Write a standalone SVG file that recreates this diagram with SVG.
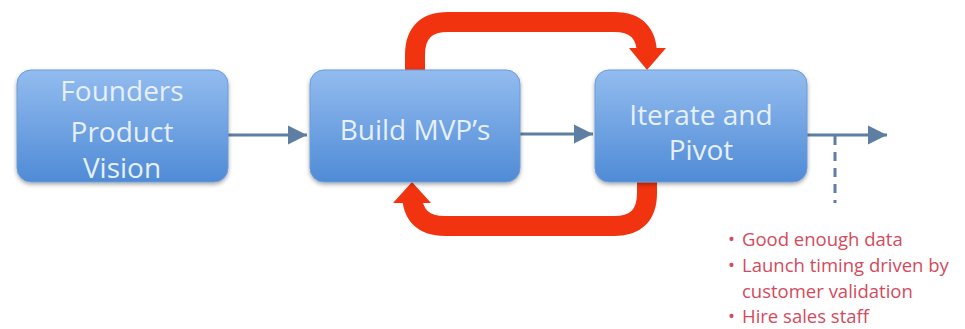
<svg xmlns="http://www.w3.org/2000/svg" width="965" height="329" viewBox="0 0 965 329">
<defs>
<linearGradient id="boxGrad" x1="0" y1="0" x2="0" y2="1">
<stop offset="0" stop-color="#93bcef"/>
<stop offset="1" stop-color="#4f8bd6"/>
</linearGradient>
<filter id="shadow" x="-10%" y="-10%" width="120%" height="130%">
<feGaussianBlur in="SourceAlpha" stdDeviation="2"/>
<feOffset dy="2"/>
<feComponentTransfer><feFuncA type="linear" slope="0.35"/></feComponentTransfer>
<feMerge><feMergeNode/><feMergeNode in="SourceGraphic"/></feMerge>
</filter>
<marker id="grayHead" viewBox="0 0 10 10" refX="10" refY="5" markerWidth="6.5" markerHeight="6.5" markerUnits="strokeWidth" orient="auto">
<path d="M0,0 L10,5 L0,10 z" fill="#5f7ea3"/>
</marker>
</defs>
<style>
.box{fill:url(#boxGrad);stroke:#6d9bd8;stroke-width:1;filter:url(#shadow);}
.lbl{font-family:"Open Sans","Liberation Sans",sans-serif;font-size:28px;fill:#e6effa;text-anchor:middle;}
.flow{stroke:#5f7ea3;stroke-width:3;fill:none;marker-end:url(#grayHead);}
.loop{stroke:#f2330f;stroke-width:20;fill:none;}
.head{fill:#f2330f;}
.note{font-family:"Open Sans","Liberation Sans",sans-serif;font-size:18.5px;fill:#d44a5c;}
</style>
<g id="connectors">
<line class="flow" x1="228" y1="135" x2="307" y2="135"/>
<line class="flow" x1="520" y1="134" x2="593" y2="134"/>
<line class="flow" x1="807" y1="135" x2="887" y2="135"/>
<line x1="835" y1="136" x2="835" y2="203" stroke="#5f7ea3" stroke-width="3" stroke-dasharray="9,7"/>
<path class="loop" d="M415,72 L415,55 Q415,22 448,22 L614,22 Q647,22 647,55 L647,52"/>
<polygon class="head" points="629,48 666,48 647,70"/>
<path class="loop" d="M647,180 L647,193 Q647,226 614,226 L445,226 Q412,226 412,193 L412,200"/>
<polygon class="head" points="393,203 431,203 412,182"/>
</g>
<g id="founders">
<rect class="box" x="17" y="70" width="211" height="112" rx="14"/>
<text class="lbl" x="122" y="101">Founders</text>
<text class="lbl" x="122" y="142">Product</text>
<text class="lbl" x="122" y="178">Vision</text>
</g>
<g id="build">
<rect class="box" x="310" y="70" width="210" height="112" rx="14"/>
<text class="lbl" x="415" y="140">Build MVP’s</text>
</g>
<g id="iterate">
<rect class="box" x="595" y="70" width="212" height="112" rx="14"/>
<text class="lbl" x="701" y="125">Iterate and</text>
<text class="lbl" x="701" y="160">Pivot</text>
</g>
<g id="notes" class="note">
<text x="728" y="246">•</text><text x="742" y="246">Good enough data</text>
<text x="728" y="272">•</text><text x="742" y="272">Launch timing driven by</text>
<text x="742" y="298">customer validation</text>
<text x="728" y="323">•</text><text x="742" y="323">Hire sales staff</text>
</g>
</svg>
